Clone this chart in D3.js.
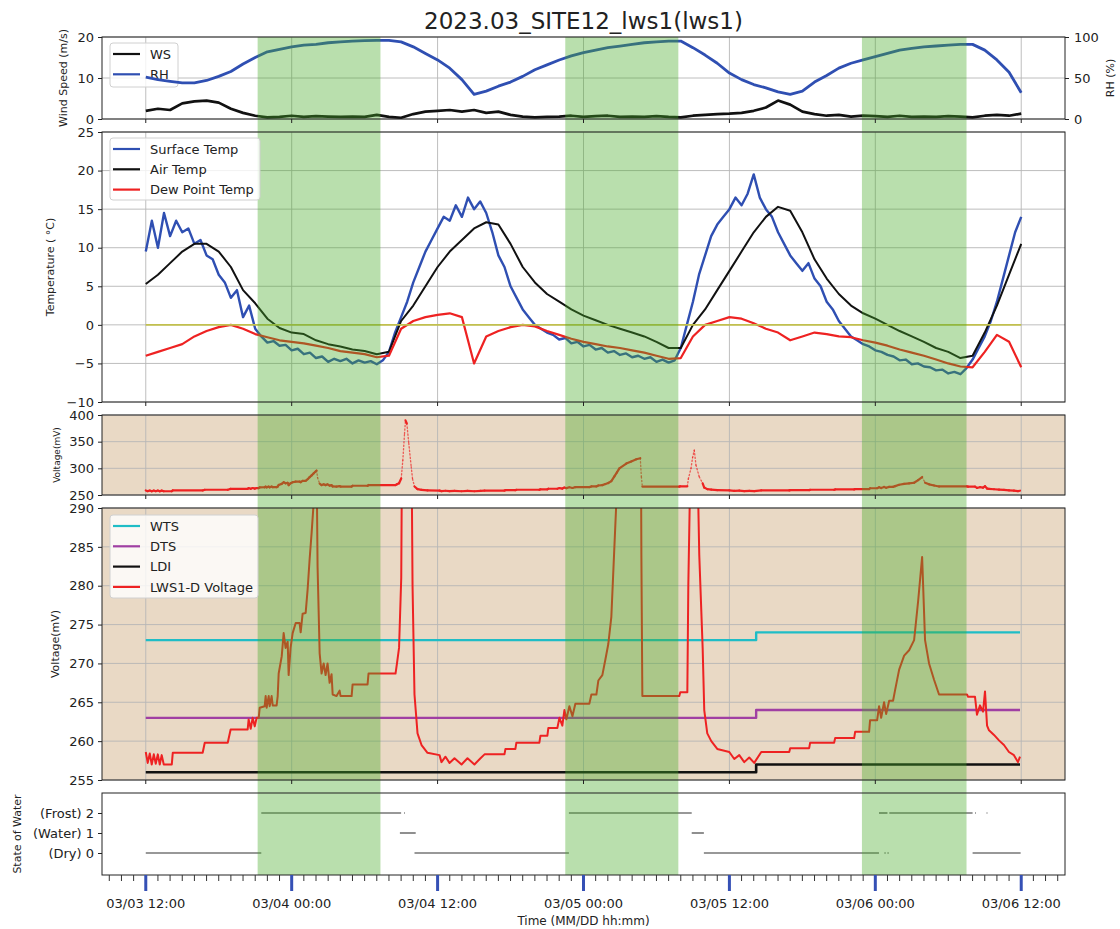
<!DOCTYPE html>
<html>
<head>
<meta charset="utf-8">
<script src="https://cdn.jsdelivr.net/npm/d3@7"></script>
<style>
body{margin:0;background:#fff;}
svg text{font-family:"DejaVu Sans",sans-serif;fill:#222;}
</style>
</head>
<body>
<svg id="chart" width="1120" height="929"></svg>
<script>
// ---------------- DATA (hours since 03/03 12:00) ----------------
const titleText = "2023.03_SITE12_lws1(lws1)";
const hourly = d3.range(73);           // 0..72 h
const halfHourly = d3.range(0, 72.5, 0.5);

const windSpeed = [2,2.5,2.2,3.8,4.3,4.5,4,2.5,1.5,0.8, 0.4,0.5,0.8,0.5,0.7,0.6,0.5,0.6,0.5,1,
  0.5,0.3,1.2,1.8,2,2.2,1.8,2.2,1.5,1.8, 1,0.6,0.4,0.5,0.6,0.8,0.5,0.7,0.8,0.5,
  0.6,0.5,0.7,0.5,0.4,0.8,1,1.2,1.3,1.5, 2,2.8,4.5,3.5,1.8,1.2,0.8,1,0.6,0.8,
  0.7,0.5,0.8,0.5,0.6,0.5,0.7,0.6,0.4,0.8, 1,0.8,1.3];
const relHumidity = [51,48,46,44,44,47,52,58,67,75, 82,85,88,90,91,93,94,95,95.5,96,
  96,94,88,80,72,62,48,30,34,40, 45,52,60,66,72,77,81,84,87,89,
  91,93,94,95,95,87,78,68,56,48, 42,38,33,30,34,45,53,62,68,72,
  76,80,84,86,88,89,90,91,91,84, 72,57,32];
const surfaceTemp = [
  9.5,13.5,10,14.5,11.5,13.5,12,12.5,10.5,11,
  9,8.5,6.5,5.5,3.5,4.5,1,2.5,-0.5,-1.5,
  -2.3,-2.1,-2.7,-2.6,-3.3,-3.1,-3.8,-3.6,-4.3,-4.1,
  -4.8,-4.4,-4.7,-4.4,-5,-4.6,-4.9,-4.7,-5.1,-4.6,
  -3.5,-1,1,3,5.5,7.5,9.5,11,12.5,14,
  13.5,15.5,14,16.5,15,16,14.5,12,9,7.5,
  5,3.5,2,1,0,-0.5,-1,-1.3,-1.9,-1.7,
  -2.4,-2.2,-2.8,-2.6,-3.2,-3,-3.6,-3.4,-3.9,-3.7,
  -4.2,-4,-4.4,-4.2,-4.8,-4.5,-4.9,-4.6,-3,0,
  3,6.5,9,11.5,13,14,15,16.5,15.5,17,
  19.5,16.5,15,14,12,10.5,9,8,7,8,
  6,5,3,2,0.5,-0.5,-1.5,-2,-2.5,-2.8,
  -3.3,-3.5,-3.9,-4.1,-4.6,-4.5,-5.1,-5,-5.4,-5.5,
  -5.9,-5.8,-6.3,-6.1,-6.4,-5.6,-4.5,-3,-1.5,0.5,
  3,6,9,12,14];
const airTemp = [5.3,6.5,8,9.5,10.5,10.5,9.5,7.5,4.5,2.8, 0.8,-0.4,-1,-1.2,-2,-2.5,-2.8,-3.2,-3.4,-3.8,
  -3.5,0.5,2.5,5,7.5,9.5,11,12.5,13.3,13, 10.5,7.5,5.5,4,3,2,1.2,0.6,0,-0.5,
  -1,-1.5,-2.2,-3,-3,0,2,4.5,7,9.5, 12,14,15.3,14.8,12,8.5,6,4,2.5,1.5,
  0.8,0,-0.8,-1.5,-2.2,-3,-3.5,-4.3,-4,-1, 2.5,6.5,10.5];
const dewPoint = [-4,-3.5,-3,-2.5,-1.5,-0.8,-0.3,0,-0.5,-1.2, -1.6,-2,-2.2,-2.4,-2.7,-3,-3.4,-3.6,-3.8,-4.2,
  -4,-0.5,0.5,1,1.3,1.5,1,-5,-1.5,-0.8, -0.3,0,-0.2,-0.8,-1.3,-1.8,-2.2,-2.5,-2.8,-3,
  -3.3,-3.6,-4,-4.4,-4.3,-1.5,0,0.5,1,0.8, 0.2,-0.5,-1,-2,-1.5,-1,-1.2,-1.5,-1.6,-2,
  -2.3,-2.7,-3.2,-3.6,-4,-4.5,-5,-5.4,-5.5,-3.5, -1.3,-2.2,-5.5];
const zeroLine = [[0,0],[72,0]];

const lwsHours = [0,0.16,0.33,0.49,0.66,0.82,0.99,1.15,1.31,1.48,2.14,2.22,4.68,4.85,6.74,6.98,8.38,8.46,8.63,8.79,
  8.96,9.12,9.29,9.37,9.78,9.86,9.94,10.11,10.19,10.35,10.44,10.76,10.85,10.93,11.18,11.34,11.5,11.67,11.75,11.91,
  12.08,12.33,12.65,12.74,12.9,13.15,13.31,13.48,13.64,13.8,13.97,14.05,14.13,14.3,14.46,14.63,14.79,14.95,15.12,15.28,
  15.37,15.69,15.94,16.02,16.93,17.01,18.24,18.32,20.54,20.66,20.83,21.01,21.14,21.28,21.36,21.47,21.63,21.83,21.94,22.1,
  22.35,22.68,23.17,24.16,24.32,24.65,24.98,25.39,25.97,26.46,27.03,27.53,27.86,29.5,29.58,30.4,30.48,32.37,32.46,33.03,
  33.11,33.85,34.02,34.26,34.43,34.59,34.84,35.09,35.33,36.48,36.65,37.06,37.22,37.55,37.8,38.04,38.29,38.54,38.75,38.95,39.52,
  39.93,40.34,40.67,40.76,40.84,43.88,43.96,44.54,44.62,44.84,44.97,45.11,45.25,45.52,45.8,45.93,46.18,46.51,47,47.99,
  48.4,48.81,49.22,49.63,50.04,50.62,52.92,53,54.56,54.64,56.61,56.7,58.26,58.34,59.49,59.57,60.15,60.31,60.48,60.72,
  60.89,61.14,61.46,61.63,61.96,62.37,62.78,63.19,63.52,63.85,64.09,64.42,64.83,65.24,67.54,67.63,68.2,68.36,68.61,68.86,
  69.02,69.19,69.35,69.76,70.17,70.58,70.99,71.4,71.73,71.9];
const lwsVoltage = [258.6,257.2,258.4,257,258.3,257.1,258.3,257,258.2,257,257,258.5,258.5,259.8,259.8,261.5,261.5,262.8,261.6,263,
  261.9,263,263,264.3,264.5,265.8,264.3,265.8,264.5,265.8,264.6,264.6,265.8,268.7,270.9,273.9,272,272.8,268.5,272,
  273.9,275.2,275.2,274,276.4,276.5,279.5,283.5,286.8,290.5,294,296,282.4,271.3,268.7,270,268.5,270,267.5,268.6,
  266,265.8,266.5,265.8,265.8,267.3,267.3,268.7,268.7,270,272,281,315,365,390,384,347,303,280,266,
  261,259.5,258.5,258.2,257.3,258,257.2,257.8,257,257.8,257,257.8,258.3,258.3,259,259,259.8,259.8,260.7,260.7,
  261.7,261.7,263,262,264,262.8,264.5,263.2,264.8,264.8,266,266,267.8,268.5,270.5,272.5,276,285,292.5,300,309,
  313,317,319,284,265.8,265.8,266.3,266.3,280,300,320,334,306,284,272,264,261,260,259,258.6,
  257.7,258.2,257.3,257.9,257.2,258.6,258.6,259.1,259.1,259.8,259.8,260.4,260.4,261.2,261.2,262.7,262.7,264.5,263,265,
  263.5,265.2,265.2,266.6,269.2,271,271.7,273,278,283.7,273,270,267.9,266,266,265.7,265.7,263.4,264.6,263.8,
  266.4,262,261.4,260.8,260.1,259.5,258.6,258.2,257.3,258];

const thresholdHours = [0, 50.2, 71.9];
const wtsValues = [273, 274, 274];
const dtsValues = [263, 264, 264];
const ldiValues = [256, 257, 257];

// state of water: [level, startHour, endHour]
const stateSegments = [
  [0,0,9.5],[0,22.1,34.8],[0,45.9,60.3],[0,60.75,60.85],[0,61.0,61.1],[0,68.0,71.95],
  [1,20.9,22.2],[1,44.9,45.9],
  [2,9.5,21.0],[2,21.25,21.32],[2,34.8,44.9],[2,60.3,61.0],[2,61.15,68.0],[2,68.2,68.27],[2,69.15,69.22]
];
const stateLabels = ["(Dry) 0","(Water) 1","(Frost) 2"];

// night / frost periods (green bands)
const greenBands = [[9.2,19.3],[34.5,43.8],[58.9,67.5]];

const wsTicks = [0,10,20], rhTicks = [0,50,100];
const tempTicks = [-10,-5,0,5,10,15,20,25];
const v1Ticks = [250,300,350,400];
const v2Ticks = [255,260,265,270,275,280,285,290];

// ---------------- LAYOUT ----------------
const svg = d3.select("#chart");
const L = 102, R = 1065;
const T0 = Date.UTC(2023,2,3,12);
const tOf = h => new Date(T0 + h*3600000);
const x = d3.scaleUtc().domain([tOf(-3.6), tOf(75.6)]).range([L,R]);
const majors = x.ticks(d3.utcHour.every(12));
const minors = x.ticks(d3.utcHour.every(1)).filter(d => d.getUTCHours() % 12 !== 0);

const P = {ws:{top:37,bot:119}, t:{top:132,bot:402}, v1:{top:415,bot:495}, v2:{top:508,bot:780}, s:{top:793,bot:875}};
const yWS = d3.scaleLinear().domain([0,20]).range([P.ws.bot,P.ws.top]);
const yRH = d3.scaleLinear().domain([0,100]).range([P.ws.bot,P.ws.top]);
const yT = d3.scaleLinear().domain([-10,25]).range([P.t.bot,P.t.top]);
const yV1 = d3.scaleLinear().domain([250,400]).range([P.v1.bot,P.v1.top]);
const yV2 = d3.scaleLinear().domain([255,290]).range([P.v2.bot,P.v2.top]);
const yS = d3.scaleLinear().domain([-1.1,3]).range([P.s.bot,P.s.top]);

const C = {blue:"#2f4fb2", red:"#ee2222", black:"#111", cyan:"#1fbdc6", purple:"#a03fa3", tan:"#e9d9c5",
  green:"rgba(70,170,40,0.38)", grid:"#b7b7b7", zero:"#c2c04e"};

const defs = svg.append("defs");
Object.entries(P).forEach(([k,p]) => {
  defs.append("clipPath").attr("id","clip-"+k).append("rect")
    .attr("x",L).attr("y",p.top).attr("width",R-L).attr("height",p.bot-p.top);
});

// backgrounds
[P.v1,P.v2].forEach(p => svg.append("rect").attr("x",L).attr("y",p.top).attr("width",R-L)
  .attr("height",p.bot-p.top).attr("fill",C.tan));

function grid(p, y, ticks){
  const g = svg.append("g");
  g.selectAll("line.h").data(ticks).join("line").attr("class","h")
    .attr("x1",L).attr("x2",R).attr("y1",d=>y(d)).attr("y2",d=>y(d))
    .attr("stroke",C.grid).attr("stroke-width",0.9);
  g.selectAll("line.v").data(majors).join("line").attr("class","v")
    .attr("x1",d=>x(d)).attr("x2",d=>x(d)).attr("y1",p.top).attr("y2",p.bot)
    .attr("stroke",C.grid).attr("stroke-width",0.9);
}
grid(P.ws, yWS, wsTicks);
grid(P.t, yT, tempTicks);
grid(P.v1, yV1, v1Ticks);
grid(P.v2, yV2, v2Ticks);

const mkLine = (y, curve) => d3.line().x(d=>x(tOf(d[0]))).y(d=>y(d[1])).curve(curve || d3.curveLinear);
function path(data, y, color, width, clip, curve){
  return svg.append("path").datum(data).attr("d", mkLine(y, curve)).attr("fill","none")
    .attr("stroke",color).attr("stroke-width",width).attr("stroke-linejoin","round")
    .attr("clip-path", clip ? `url(#clip-${clip})` : null);
}

function legend(box, items){
  const g = svg.append("g");
  g.append("rect").attr("x",box[0]).attr("y",box[1]).attr("width",box[2]).attr("height",box[3])
    .attr("rx",3).attr("fill","#fff").attr("fill-opacity",0.8).attr("stroke","#d0d0d0");
  items.forEach((it,i) => {
    const yy = box[1] + 11 + i*20.3;
    g.append("line").attr("x1",box[0]+3).attr("x2",box[0]+30).attr("y1",yy).attr("y2",yy)
      .attr("stroke",it.color).attr("stroke-width",2.2);
    g.append("text").attr("x",box[0]+40).attr("y",yy).attr("dy","0.36em")
      .attr("font-size",13).text(it.label);
  });
}

// Panel 1
path(d3.zip(hourly, windSpeed), yWS, C.black, 2.7, "ws");
legend([110,43,68,44], [{label:"WS",color:C.black},{label:"RH",color:C.blue}]);
path(d3.zip(hourly, relHumidity), yRH, C.blue, 2.8, "ws");

// Panel 2
path(d3.zip(halfHourly, surfaceTemp), yT, C.blue, 2.4, "t");
path(d3.zip(hourly, airTemp), yT, C.black, 2, "t");
path(d3.zip(hourly, dewPoint), yT, C.red, 2.2, "t");
path(zeroLine, yT, C.zero, 1.6, "t");

// Panel 3 (points: fast changes appear dotted)
const lws = d3.zip(lwsHours, lwsVoltage);
const g3 = svg.append("g").attr("clip-path","url(#clip-v1)");
for (let i=1;i<lws.length;i++){
  const a = lws[i-1], b = lws[i];
  const fast = Math.abs(b[1]-a[1]) > 10;
  g3.append("line").attr("x1",x(tOf(a[0]))).attr("y1",yV1(a[1])).attr("x2",x(tOf(b[0]))).attr("y2",yV1(b[1]))
    .attr("stroke",C.red).attr("stroke-width", fast ? 1.3 : 2.2)
    .attr("stroke-dasharray", fast ? "1.3,2.2" : null).attr("stroke-opacity", fast ? 0.7 : 1)
    .attr("stroke-linecap","round");
}

// Panel 4
path(d3.zip(thresholdHours, wtsValues), yV2, C.cyan, 2.4, "v2", d3.curveStepAfter);
path(d3.zip(thresholdHours, dtsValues), yV2, C.purple, 2.4, "v2", d3.curveStepAfter);
path(d3.zip(thresholdHours, ldiValues), yV2, C.black, 2.6, "v2", d3.curveStepAfter);
path(lws, yV2, C.red, 2, "v2");

// Panel 5 state of water
svg.append("g").selectAll("line").data(stateSegments).join("line")
  .attr("x1",d=>x(tOf(d[1]))).attr("x2",d=>x(tOf(d[2]))).attr("y1",d=>yS(d[0])).attr("y2",d=>yS(d[0]))
  .attr("stroke","#333").attr("stroke-width",1.1);

// Green bands
svg.append("g").selectAll("rect").data(greenBands).join("rect")
  .attr("x",d=>x(tOf(d[0]))).attr("width",d=>x(tOf(d[1]))-x(tOf(d[0])))
  .attr("y",P.ws.top).attr("height",P.s.bot-P.ws.top).attr("fill",C.green);

// legends (drawn on top)
legend([110,138,150,62], [{label:"Surface Temp",color:C.blue},{label:"Air Temp",color:C.black},{label:"Dew Point Temp",color:C.red}]);
legend([110,515,148,83], [{label:"WTS",color:C.cyan},{label:"DTS",color:C.purple},{label:"LDI",color:C.black},{label:"LWS1-D Voltage",color:C.red}]);

// spines
Object.values(P).forEach(p => svg.append("rect").attr("x",L).attr("y",p.top).attr("width",R-L)
  .attr("height",p.bot-p.top).attr("fill","none").attr("stroke","#222").attr("stroke-width",1));

// axes
function styleAxis(g){
  g.select(".domain").remove();
  g.attr("font-family",'"DejaVu Sans",sans-serif').attr("font-size",13);
  g.selectAll("line").attr("stroke","#222");
  g.selectAll("text").attr("fill","#222");
}
function yLeft(y, ticks, fmt){
  svg.append("g").attr("transform",`translate(${L},0)`)
    .call(d3.axisLeft(y).tickValues(ticks).tickSize(4).tickPadding(4).tickFormat(fmt || d3.format("d")))
    .call(styleAxis);
}
yLeft(yWS, wsTicks); yLeft(yT, tempTicks); yLeft(yV1, v1Ticks); yLeft(yV2, v2Ticks);
yLeft(yS, [0,1,2], d => stateLabels[d]);
svg.append("g").attr("transform",`translate(${R},0)`)
  .call(d3.axisRight(yRH).tickValues(rhTicks).tickSize(4).tickPadding(5).tickFormat(d3.format("d")))
  .call(styleAxis);

// small x ticks at bottom of upper panels
[P.ws,P.t,P.v1,P.v2].forEach(p => {
  svg.append("g").selectAll("line").data(majors).join("line")
    .attr("x1",d=>x(d)).attr("x2",d=>x(d)).attr("y1",p.bot).attr("y2",p.bot+4)
    .attr("stroke","#222").attr("stroke-width",1);
});
// bottom axis
svg.append("g").selectAll("line").data(minors).join("line")
  .attr("x1",d=>x(d)).attr("x2",d=>x(d)).attr("y1",P.s.bot).attr("y2",P.s.bot+6)
  .attr("stroke","#333").attr("stroke-width",1);
svg.append("g").selectAll("line").data(majors).join("line")
  .attr("x1",d=>x(d)).attr("x2",d=>x(d)).attr("y1",P.s.bot).attr("y2",P.s.bot+16)
  .attr("stroke","#3550b5").attr("stroke-width",3);
const fmtX = d3.utcFormat("%m/%d %H:%M");
svg.append("g").selectAll("text").data(majors).join("text")
  .attr("x",d=>x(d)).attr("y",908).attr("text-anchor","middle").attr("font-size",13).text(fmtX);

// titles / labels
svg.append("text").attr("x",(L+R)/2).attr("y",29).attr("text-anchor","middle").attr("font-size",23).text(titleText);
svg.append("text").attr("x",(L+R)/2).attr("y",925).attr("text-anchor","middle").attr("font-size",12).text("Time (MM/DD hh:mm)");
function yLabel(txt, cx, cy, size){
  svg.append("text").attr("transform",`translate(${cx},${cy}) rotate(-90)`).attr("text-anchor","middle")
    .attr("dy","0.35em").attr("font-size",size).text(txt);
}
yLabel("Wind Speed (m/s)", 63, (P.ws.top+P.ws.bot)/2, 11);
yLabel("RH (%)", 1110, (P.ws.top+P.ws.bot)/2, 11);
yLabel("Temperature ( \u00B0C)", 50, (P.t.top+P.t.bot)/2, 11);
yLabel("Voltage(mV)", 57, (P.v1.top+P.v1.bot)/2, 9);
yLabel("Voltage(mV)", 55, (P.v2.top+P.v2.bot)/2, 11);
yLabel("State of Water", 17, (P.s.top+P.s.bot)/2, 11);
</script>
</body>
</html>
